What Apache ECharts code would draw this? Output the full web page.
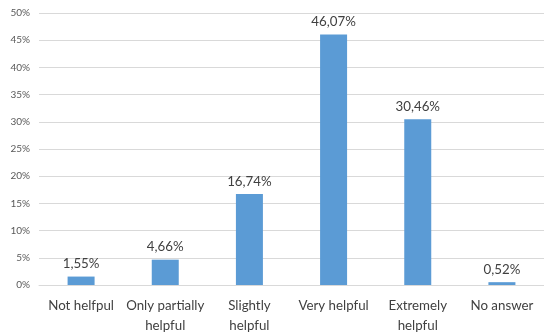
<!DOCTYPE html>
<html>
<head>
<meta charset="utf-8">
<script src="https://cdn.jsdelivr.net/npm/echarts@6/dist/echarts.min.js"></script>
<style>
  html, body { margin: 0; padding: 0; background: #fff; }
  #chart { width: 544px; height: 336px; }
</style>
</head>
<body>
<div id="chart"></div>
<script>
// Answer categories and their share of responses (%)
const categories = ['Not helfpul', 'Only partially\nhelpful', 'Slightly\nhelpful', 'Very helpful', 'Extremely\nhelpful', 'No answer'];
const shares = [1.55, 4.66, 16.74, 46.07, 30.46, 0.52];
const yTicks = { min: 0, max: 50, step: 5 };

const fontFamily = 'Lato, "Open Sans", sans-serif';
const fmtPct = v => v.toFixed(2).replace('.', ',') + '%';

const chart = echarts.init(document.getElementById('chart'), null, { renderer: 'canvas' });
chart.setOption({
  animation: false,
  textStyle: { fontFamily },
  grid: { left: 39, right: 0, top: 13, bottom: 50, containLabel: false },
  xAxis: {
    type: 'category',
    data: categories,
    axisLine: { show: true, lineStyle: { color: '#d9d9d9', width: 1 } },
    axisTick: { show: false },
    axisLabel: { color: '#404040', fontSize: 13.3, lineHeight: 20, margin: 11, interval: 0, fontFamily }
  },
  yAxis: {
    type: 'value',
    min: yTicks.min, max: yTicks.max, interval: yTicks.step,
    axisLine: { show: false },
    axisTick: { show: false },
    splitLine: { lineStyle: { color: '#d9d9d9', width: 1 } },
    axisLabel: { color: '#595959', fontSize: 10, margin: 9, formatter: v => v + '%', fontFamily }
  },
  series: [{
    type: 'bar',
    data: shares,
    barWidth: 27,
    itemStyle: { color: '#5b9bd5' },
    label: {
      show: true, position: 'top', distance: 6,
      color: '#404040', fontSize: 13.3, fontFamily,
      formatter: p => fmtPct(p.value)
    }
  }]
});
</script>
</body>
</html>
